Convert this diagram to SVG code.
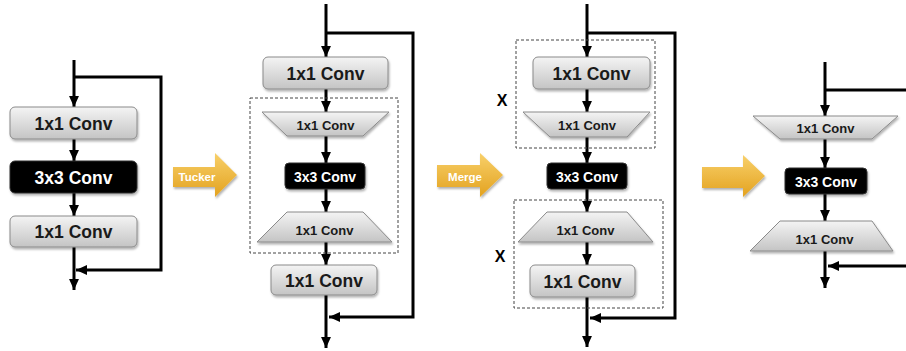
<svg xmlns="http://www.w3.org/2000/svg" width="906" height="351" viewBox="0 0 906 351">
<defs>
<linearGradient id="gGray" x1="0" y1="0" x2="0" y2="1">
<stop offset="0" stop-color="#f4f4f4"/>
<stop offset="1" stop-color="#c4c4c4"/>
</linearGradient>
<linearGradient id="gGold" x1="0" y1="0" x2="0" y2="1">
<stop offset="0" stop-color="#f8d06a"/>
<stop offset="1" stop-color="#e3a21f"/>
</linearGradient>
<filter id="sh" x="-10%" y="-20%" width="130%" height="160%">
<feDropShadow dx="1" dy="2" stdDeviation="1.2" flood-color="#000" flood-opacity="0.3"/>
</filter>
<marker id="ah" viewBox="0 0 10 10" refX="10" refY="5" markerWidth="11" markerHeight="11" markerUnits="userSpaceOnUse" orient="auto">
<path d="M0,0.5 L10,5 L0,9.5 Z" fill="#000"/>
</marker>
</defs>
<style>
.gbox{fill:url(#gGray);stroke:#8a8a8a;stroke-width:1;filter:url(#sh)}
.bbox{fill:#000;stroke:#333;stroke-width:1;filter:url(#sh)}
.dash{fill:none;stroke:#444;stroke-width:1;stroke-dasharray:3 2}
.gold{fill:url(#gGold);filter:url(#sh)}
.c{fill:none;stroke:#000;stroke-width:3}
.ca{fill:none;stroke:#000;stroke-width:3;marker-end:url(#ah)}
text{font-family:"Liberation Sans",Arial,sans-serif;font-weight:bold;text-anchor:middle;dominant-baseline:central}
.tl{font-size:17.5px;fill:#1a1a1a}
.ts{font-size:13px;fill:#1a1a1a}
.tw{font-size:17.5px;fill:#fff}
.tws{font-size:14px;fill:#fff}
.ta{font-size:11.5px;fill:#fff}
.tx{font-size:16px;fill:#000}
</style>

<g id="connectors">
<path class="ca" d="M74 60 V107"/>
<path class="ca" d="M74 139 V161"/>
<path class="ca" d="M74 193 V216"/>
<path class="ca" d="M74 247 V290"/>
<path class="ca" d="M74 77 H161 V270 H76"/>
<path class="ca" d="M326 4 V57"/>
<path class="ca" d="M326 89 V112"/>
<path class="ca" d="M326 136 V163"/>
<path class="ca" d="M326 189 V212"/>
<path class="ca" d="M326 242 V265"/>
<path class="ca" d="M326 295 V348"/>
<path class="ca" d="M326 33 H413 V317 H329"/>
<path class="ca" d="M587 4 V57"/>
<path class="ca" d="M587 89 V112"/>
<path class="ca" d="M587 137 V163"/>
<path class="ca" d="M587 189 V212"/>
<path class="ca" d="M587 242 V265"/>
<path class="ca" d="M587 297 V347"/>
<path class="ca" d="M587 33 H675 V318 H590"/>
<path class="ca" d="M825 62 V116"/>
<path class="ca" d="M825 139 V168"/>
<path class="ca" d="M825 194 V221"/>
<path class="ca" d="M825 251 V288"/>
<path class="c" d="M825 90 H906"/>
<path class="ca" d="M906 266 H828"/>
</g>

<g id="left-conv1"><rect class="gbox" x="10" y="107" width="127" height="32" rx="5"/><text class="tl" x="73.5" y="123.5">1x1 Conv</text></g>
<g id="left-conv3"><rect class="bbox" x="10" y="161" width="127" height="32" rx="5"/><text class="tw" x="73.5" y="177.5">3x3 Conv</text></g>
<g id="left-conv1b"><rect class="gbox" x="10" y="216" width="127" height="31" rx="5"/><text class="tl" x="73.5" y="232">1x1 Conv</text></g>

<g id="arrow-tucker"><polygon class="gold" points="173,167 215,167 215,153 237,175 215,197 215,187 173,187"/><text class="ta" x="197" y="177">Tucker</text></g>

<g id="tucker-group"><rect class="dash" x="250" y="98" width="148" height="155"/></g>
<g id="t-conv1"><rect class="gbox" x="263" y="57" width="125" height="32" rx="5"/><text class="tl" x="325.5" y="73.5">1x1 Conv</text></g>
<g id="t-trap1"><polygon class="gbox" points="262,112 389,112 363,136 287,136"/><text class="ts" x="325.5" y="125">1x1 Conv</text></g>
<g id="t-conv3"><rect class="bbox" x="285" y="163" width="80" height="26" rx="4"/><text class="tws" x="325" y="176.5">3x3 Conv</text></g>
<g id="t-trap2"><polygon class="gbox" points="287,212 363,212 392,242 257,242"/><text class="ts" x="324.5" y="230">1x1 Conv</text></g>
<g id="t-conv1b"><rect class="gbox" x="271" y="265" width="106" height="30" rx="5"/><text class="tl" x="324" y="280.5">1x1 Conv</text></g>

<g id="arrow-merge"><polygon class="gold" points="437,165 480,165 480,153 503,175 480,197 480,187 437,187"/><text class="ta" x="465" y="177">Merge</text></g>

<g id="merge-group1"><rect class="dash" x="516" y="40" width="139" height="108"/><text class="tx" x="502" y="100">X</text></g>
<g id="merge-group2"><rect class="dash" x="514" y="200" width="149" height="108"/><text class="tx" x="500" y="256">X</text></g>
<g id="m-conv1"><rect class="gbox" x="533" y="57" width="117" height="32" rx="5"/><text class="tl" x="591.5" y="73.5">1x1 Conv</text></g>
<g id="m-trap1"><polygon class="gbox" points="523,112 650,112 627,137 550,137"/><text class="ts" x="587" y="125.5">1x1 Conv</text></g>
<g id="m-conv3"><rect class="bbox" x="547" y="163" width="80" height="26" rx="4"/><text class="tws" x="587" y="176.5">3x3 Conv</text></g>
<g id="m-trap2"><polygon class="gbox" points="547,212 627,212 653,242 518,242"/><text class="ts" x="585.5" y="230">1x1 Conv</text></g>
<g id="m-conv1b"><rect class="gbox" x="530" y="265" width="105" height="32" rx="5"/><text class="tl" x="582.5" y="281.5">1x1 Conv</text></g>

<g id="arrow-result"><polygon class="gold" points="702,167 743,167 743,155 765,176 743,197 743,188 702,188"/></g>

<g id="r-trap1"><polygon class="gbox" points="753,116 898,116 872,139 780,139"/><text class="ts" x="825.5" y="128">1x1 Conv</text></g>
<g id="r-conv3"><rect class="bbox" x="785" y="168" width="82" height="26" rx="4"/><text class="tws" x="826" y="181.5">3x3 Conv</text></g>
<g id="r-trap2"><polygon class="gbox" points="780,221 872,221 893,251 750,251"/><text class="ts" x="824.5" y="239">1x1 Conv</text></g>
</svg>
